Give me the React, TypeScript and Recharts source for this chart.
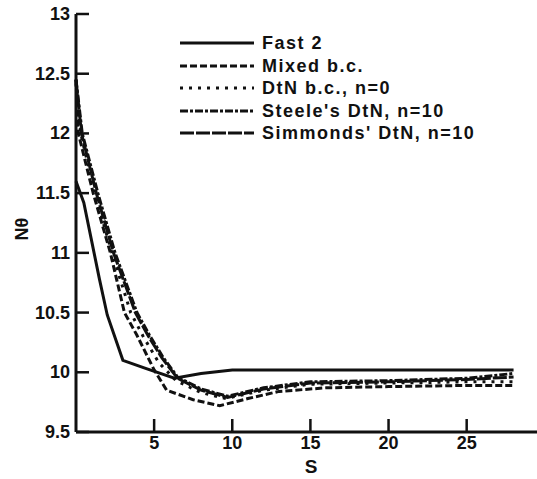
import { LineChart, Line, XAxis, YAxis, Legend } from 'recharts'

// S values and Nθ values per curve
const fastS = [0, 0.5, 1, 1.5, 2, 3, 4.5, 6.3, 8, 10, 15, 20, 25, 28]
const fastN = [11.6, 11.42, 11.1, 10.78, 10.48, 10.1, 10.03, 9.95, 9.99, 10.02, 10.02, 10.02, 10.02, 10.02]

const mixedS = [0, 0.15, 1.1, 2.2, 3.1, 3.9, 5, 5.8, 7.5, 9.2, 11, 13, 16, 20, 25, 28]
const mixedN = [12.45, 12.0, 11.5, 11.0, 10.5, 10.31, 10.02, 9.85, 9.77, 9.72, 9.78, 9.84, 9.87, 9.88, 9.89, 9.89]

const dtnS = [0, 0.3, 1.2, 2.3, 3.5, 4.3, 5.3, 6.4, 8, 9.6, 12, 15, 20, 25, 28]
const dtnN = [12.42, 12.0, 11.5, 11.0, 10.5, 10.3, 10.08, 9.93, 9.83, 9.78, 9.85, 9.9, 9.91, 9.92, 9.92]

const steeleS = [0, 0.4, 1.4, 2.5, 3.9, 4.7, 5.6, 6.5, 8, 9.7, 12, 15, 20, 25, 28]
const steeleN = [12.45, 12.0, 11.5, 11.0, 10.5, 10.31, 10.12, 9.96, 9.86, 9.8, 9.87, 9.92, 9.93, 9.95, 9.99]

const simmondsS = [0, 0.35, 1.3, 2.4, 3.8, 4.6, 5.5, 6.5, 8, 9.7, 12, 15, 20, 25, 28]
const simmondsN = [12.45, 12.0, 11.5, 11.0, 10.5, 10.31, 10.12, 9.95, 9.85, 9.79, 9.86, 9.91, 9.92, 9.94, 9.96]

const xTicks = [5, 10, 15, 20, 25]
const yTicks = [9.5, 10, 10.5, 11, 11.5, 12, 12.5, 13]

const INK = '#111'
const FONT = '"Liberation Sans", Arial, sans-serif'

const toPoints = (s: number[], n: number[]) => s.map((v, i) => ({ s: v, n: n[i] }))

const series = [
  { name: 'Fast 2', data: toPoints(fastS, fastN), dash: undefined },
  { name: 'Mixed b.c.', data: toPoints(mixedS, mixedN), dash: '7 3' },
  { name: 'DtN b.c., n=0', data: toPoints(dtnS, dtnN), dash: '3 6' },
  { name: "Steele's DtN, n=10", data: toPoints(steeleS, steeleN), dash: '8 2 3 2' },
  { name: "Simmonds' DtN, n=10", data: toPoints(simmondsS, simmondsN), dash: '14 2' },
]

function YTick({ x, y, payload }: any) {
  return (
    <g>
      <line x1={x} x2={x + 13} y1={y} y2={y} stroke={INK} strokeWidth={2.5} />
      <text x={x - 6} y={y} dy={6} textAnchor="end" fontFamily={FONT} fontWeight={700} fontSize={18} fill={INK}>
        {payload.value}
      </text>
    </g>
  )
}

function XTick({ x, y, payload }: any) {
  return (
    <g>
      <line x1={x} x2={x} y1={y} y2={y - 13} stroke={INK} strokeWidth={2.5} />
      <text x={x} y={y + 17} textAnchor="middle" fontFamily={FONT} fontWeight={700} fontSize={18} fill={INK}>
        {payload.value}
      </text>
    </g>
  )
}

function LegendBox() {
  return (
    <div style={{ fontFamily: FONT, fontWeight: 700, fontSize: 18, letterSpacing: 1.5, color: INK }}>
      {series.map((s) => (
        <div key={s.name} style={{ display: 'flex', alignItems: 'center', height: 22.5 }}>
          <svg width={76} height={10}>
            <line x1={0} x2={74} y1={5} y2={5} stroke={INK} strokeWidth={3} strokeDasharray={s.dash} />
          </svg>
          <span style={{ marginLeft: 6, lineHeight: 1, whiteSpace: 'nowrap' }}>{s.name}</span>
        </div>
      ))}
    </div>
  )
}

export default function App() {
  return (
    <div style={{ position: 'absolute', left: 0, top: 0, width: 537, height: 479, background: '#fff' }}>
      <LineChart width={537} height={479} margin={{ top: 14, right: 0, bottom: 0, left: 0 }}>
        <XAxis
          dataKey="s"
          type="number"
          domain={[0, 29.5]}
          ticks={xTicks}
          interval={0}
          height={47}
          axisLine={{ stroke: INK, strokeWidth: 3 }}
          tickLine={false}
          tickSize={0}
          tickMargin={0}
          tick={<XTick />}
          allowDuplicatedCategory={false}
          label={{
            content: ({ viewBox }: any) => (
              <text x={viewBox.x + 235} y={viewBox.y + 41} textAnchor="middle" fontFamily={FONT} fontWeight={700} fontSize={19} fill={INK}>
                S
              </text>
            ),
          }}
        />
        <YAxis
          dataKey="n"
          type="number"
          domain={[9.5, 13]}
          ticks={yTicks}
          interval={0}
          width={76}
          axisLine={{ stroke: INK, strokeWidth: 3 }}
          tickLine={false}
          tickSize={0}
          tickMargin={0}
          tick={<YTick />}
          label={{
            content: ({ viewBox }: any) => (
              <text
                x={22}
                y={viewBox.y + viewBox.height / 2 + 6}
                transform={`rotate(-90, 22, ${viewBox.y + viewBox.height / 2 + 6})`}
                dy={6}
                textAnchor="middle"
                fontFamily={FONT}
                fontWeight={700}
                fontSize={18}
                fill={INK}
              >
                Nθ
              </text>
            ),
          }}
        />
        <Legend
          layout="vertical"
          align="center"
          verticalAlign="middle"
          wrapperStyle={{ left: 180, top: 32, width: 350 }}
          content={<LegendBox />}
        />
        {series.map((s) => (
          <Line
            key={s.name}
            data={s.data}
            dataKey="n"
            name={s.name}
            type="linear"
            stroke={INK}
            strokeWidth={3}
            strokeDasharray={s.dash}
            dot={false}
            activeDot={false}
            isAnimationActive={false}
          />
        ))}
      </LineChart>
    </div>
  )
}
